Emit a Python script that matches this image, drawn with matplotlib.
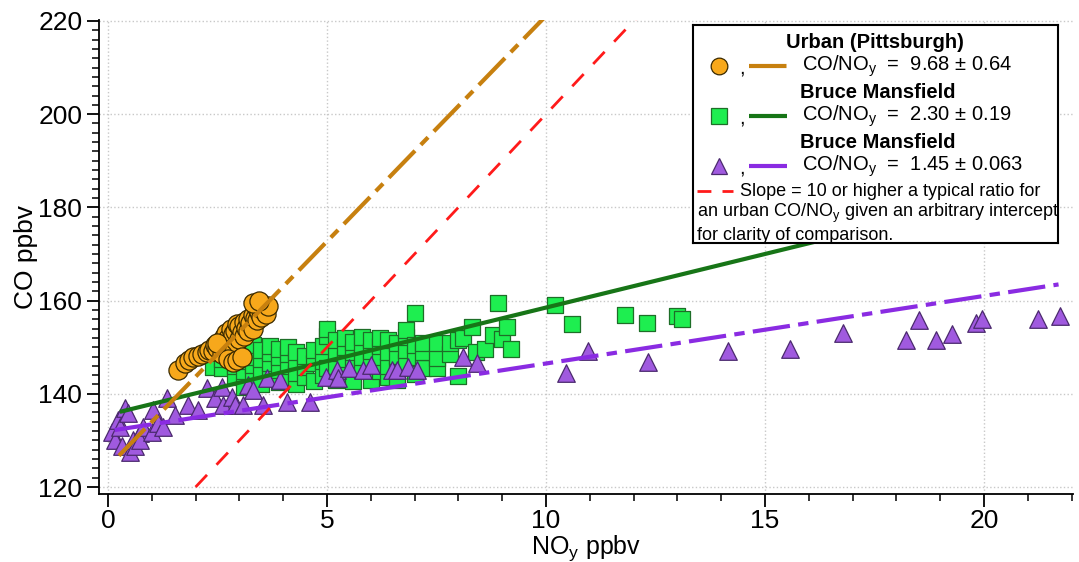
import matplotlib
matplotlib.use("Agg")
import matplotlib.pyplot as plt
from matplotlib import font_manager
from matplotlib.ticker import MultipleLocator
import numpy as np

# Urban (Pittsburgh) points
urban_x = [1.6, 1.75, 1.85, 1.95, 2.05, 2.15, 2.25, 2.3, 2.4, 2.45, 2.5, 2.55, 2.6, 2.65,
           2.7, 2.7, 2.75, 2.8, 2.8, 2.85, 2.9, 2.9, 2.95, 3.0, 3.0, 3.05, 3.1, 3.1, 3.15,
           3.2, 3.2, 3.25, 3.3, 3.3, 3.35, 3.4, 3.4, 3.45, 3.5, 3.55, 3.6, 3.65, 2.6, 2.75,
           2.85, 2.95, 3.05, 2.5, 3.3, 3.45]
urban_y = [145.2, 146.5, 147.3, 147.8, 148.2, 148.6, 149.0, 149.5, 149.2, 150.5, 149.8, 150.8,
           151.5, 152.2, 150.5, 153.0, 152.0, 151.5, 154.0, 152.8, 150.2, 153.5, 155.0, 151.8,
           154.5, 153.2, 152.5, 155.5, 154.2, 153.5, 156.0, 155.2, 154.0, 157.0, 156.2, 158.5,
           155.8, 157.5, 156.5, 158.0, 157.2, 158.8, 148.5, 147.5, 146.8, 147.2, 148.0, 151.0,
           159.5, 160.0]

# Bruce Mansfield (squares)
green_x = [2.4, 2.6, 2.6, 2.9, 2.9, 2.9,
           3.1, 3.1, 3.1, 3.1, 3.3, 3.3, 3.3, 3.3,
           3.5, 3.5, 3.5, 3.5, 3.7, 3.7, 3.7, 3.7,
           3.9, 3.9, 3.9, 3.9, 4.1, 4.1, 4.1, 4.1,
           4.3, 4.3, 4.3, 4.3, 4.5, 4.5, 4.5,
           4.7, 4.7, 4.7, 4.9, 4.9, 4.9, 5.0, 5.0, 5.0,
           5.2, 5.2, 5.2, 5.2, 5.4, 5.4, 5.4, 5.4,
           5.6, 5.6, 5.6, 5.6, 5.8, 5.8, 5.8, 5.8,
           6.0, 6.0, 6.0, 6.0, 6.2, 6.2, 6.2, 6.2,
           6.4, 6.4, 6.4, 6.4, 6.6, 6.6, 6.6, 6.6,
           6.8, 6.8, 6.8, 6.8, 7.0, 7.0, 7.0, 7.0,
           7.2, 7.2, 7.2, 7.5, 7.5, 7.5, 7.8, 7.8,
           8.0, 8.0, 8.1, 8.3, 8.4, 8.6, 8.8, 8.9, 9.0, 9.1, 9.2,
           10.2, 10.6, 11.8, 12.3, 13.0, 13.1]
green_y = [145.7, 145.5, 147.5, 143.5, 146.0, 148.5,
           141.5, 144.8, 147.0, 149.2, 143.5, 146.2, 148.0, 150.5,
           142.2, 145.0, 147.5, 149.5, 143.8, 146.5, 148.8, 150.2,
           142.5, 145.2, 147.8, 149.6, 143.2, 146.0, 148.5, 150.0,
           142.0, 144.5, 147.2, 149.0, 143.5, 145.8, 148.2,
           142.8, 146.5, 149.5, 144.0, 147.0, 150.2, 145.5, 152.5, 154.0,
           143.0, 146.0, 148.8, 151.5, 144.5, 147.5, 150.0, 152.0,
           142.8, 146.2, 149.0, 151.2, 145.0, 148.0, 150.5, 152.2,
           143.0, 146.5, 149.2, 151.5, 144.8, 147.8, 150.2, 152.0,
           143.5, 146.0, 149.0, 151.5, 143.0, 145.5, 148.2, 150.8,
           146.8, 149.5, 152.2, 153.7, 144.2, 148.0, 150.5, 157.3,
           145.5, 149.0, 151.0, 145.5, 147.7, 150.9, 148.5, 150.9,
           143.8, 151.5, 152.0, 154.3, 149.0, 149.6, 152.6, 159.5, 151.8, 154.3, 149.6,
           159.0, 155.0, 157.0, 155.2, 156.6, 156.0]

# Bruce Mansfield (triangles)
purple_x = [0.1, 0.16, 0.23, 0.27, 0.32, 0.39, 0.46, 0.5, 0.57, 0.62, 0.73, 0.73, 0.8, 1.0,
            1.03, 1.14, 1.26, 1.35, 1.53, 1.83, 2.05, 2.26, 2.44, 2.6, 2.63, 2.83, 2.9, 3.08,
            3.2, 3.31, 3.54, 3.63, 3.93, 4.09, 4.61, 4.98, 5.23, 5.25, 5.5, 5.82, 6.0, 6.48,
            6.6, 6.85, 7.05, 8.1, 8.42, 10.46, 10.96, 12.33, 14.16, 15.57, 16.78, 18.22,
            18.52, 18.9, 19.27, 19.82, 19.95, 21.23, 21.74]
purple_y = [131.8, 130.1, 134.4, 132.9, 128.8, 137.0, 135.9, 127.5, 130.1, 128.8, 131.6, 130.1,
            132.9, 131.8, 136.5, 133.7, 132.9, 139.1, 135.5, 137.6, 136.5, 141.2, 139.1, 141.5,
            137.6, 139.3, 137.6, 137.6, 141.9, 140.8, 137.6, 143.4, 143.0, 138.2, 138.2, 143.6,
            145.1, 143.4, 145.5, 145.1, 146.2, 145.1, 145.1, 145.8, 145.1, 147.9, 146.6, 144.5,
            149.2, 146.8, 149.2, 149.6, 153.0, 151.5, 155.8, 151.5, 152.8, 155.2, 156.1, 156.1,
            156.7]

# fit lines: (slope, intercept, x start, x end)
urban_fit = (9.68, 124.3, 0.25, 10.5)
green_fit = (2.30, 135.5, 0.27, 21.6)
purple_fit = (1.45, 132.0, 0.15, 21.7)
ref_fit = (10.0, 100.0, 2.0, 12.2)

names = {f.name for f in font_manager.fontManager.ttflist}
FONT = "Liberation Sans" if "Liberation Sans" in names else "DejaVu Sans"

plt.rcParams["font.family"] = [FONT, "DejaVu Sans"]
plt.rcParams["mathtext.fontset"] = "custom"
plt.rcParams["mathtext.rm"] = FONT
plt.rcParams["mathtext.bf"] = FONT + ":bold"
plt.rcParams["mathtext.it"] = FONT + ":italic"

ORANGE_PT = "#F7A81B"
ORANGE_LN = "#C7800F"
GREEN_PT = "#1EEE50"
GREEN_ED = "#1E6E28"
GREEN_LN = "#177517"
PURPLE_PT = "#A05ADF"
PURPLE_ED = "#4B2A6E"
PURPLE_LN = "#8A2BE2"

W, H = 1079, 562
fig = plt.figure(figsize=(W / 100, H / 100), dpi=100)
ax = fig.add_axes([99 / W, 1 - 494 / H, (1073 - 99) / W, (494 - 20) / H])

ax.set_xlim(-0.205, 22.03)
ax.set_ylim(118.5, 220.2)

ax.grid(True, which="major", linestyle=":", color="#c8c8c8", linewidth=1.0)
ax.set_axisbelow(True)
for s in ["top", "right"]:
    ax.spines[s].set_visible(False)
for s in ["left", "bottom"]:
    ax.spines[s].set_linewidth(1.3)

ax.scatter(green_x, green_y, s=120, marker="s", facecolor=GREEN_PT, edgecolor=GREEN_ED,
           linewidth=0.9, zorder=3)
ax.scatter(purple_x, purple_y, s=160, marker="^", facecolor=PURPLE_PT, edgecolor=PURPLE_ED,
           linewidth=0.9, zorder=4)
ax.scatter(urban_x, urban_y, s=190, marker="o", facecolor=ORANGE_PT, edgecolor="#3a2a00",
           linewidth=0.9, zorder=5)


def fit_line(fit, **kw):
    m, b, x0, x1 = fit
    xs = np.array([x0, x1])
    ax.plot(xs, m * xs + b, **kw)


fit_line(green_fit, color=GREEN_LN, lw=3.0, zorder=6, solid_capstyle="butt")
fit_line(purple_fit, color=PURPLE_LN, lw=3.0, zorder=6, dashes=(9, 2, 2.5, 2))
fit_line(ref_fit, color="#FF1A1A", lw=2.0, zorder=6, dashes=(6, 5))
fit_line(urban_fit, color=ORANGE_LN, lw=3.0, zorder=7, dashes=(9, 2, 2.5, 2))

ax.xaxis.set_major_locator(MultipleLocator(5))
ax.xaxis.set_minor_locator(MultipleLocator(1))
ax.yaxis.set_major_locator(MultipleLocator(20))
ax.yaxis.set_minor_locator(MultipleLocator(2))
ax.tick_params(axis="both", which="major", direction="out", length=9, width=1.3,
               labelsize=19, colors="black")
ax.tick_params(axis="both", which="minor", direction="out", length=5, width=1.1)
ax.tick_params(axis="x", which="major", pad=2)
ax.tick_params(axis="y", which="major", pad=3)

ax.set_ylabel("CO ppbv", fontsize=19, labelpad=0)
ax.set_xlabel("NO$_\\mathregular{y}$ ppbv", fontsize=18, labelpad=0)

# legend box drawn in its own pixel-unit axes
lx0, ly0, lx1, ly1 = 693, 25, 1058, 243
lg = fig.add_axes([lx0 / W, 1 - ly1 / H, (lx1 - lx0) / W, (ly1 - ly0) / H])
lg.set_xlim(0, lx1 - lx0)
lg.set_ylim(ly1 - ly0, 0)
lg.set_xticks([])
lg.set_yticks([])
lg.set_zorder(10)
for s in lg.spines.values():
    s.set_linewidth(1.5)

fs = 14.5
lg.text(182, 18, "Urban (Pittsburgh)", fontsize=fs, fontweight="bold", ha="center", va="center")
lg.text(185, 67, "Bruce Mansfield", fontsize=fs, fontweight="bold", ha="center", va="center")
lg.text(185, 117, "Bruce Mansfield", fontsize=fs, fontweight="bold", ha="center", va="center")

rows = [
    (41, "o", ORANGE_PT, "#3a2a00", ORANGE_LN, "9.68 ± 0.64", (9, 2, 2.5, 2)),
    (91, "s", GREEN_PT, GREEN_ED, GREEN_LN, "2.30 ± 0.19", None),
    (141, "^", PURPLE_PT, PURPLE_ED, PURPLE_LN, "1.45 ± 0.063", None),
]
for y, mk, fc, ec, lc, val, dsh in rows:
    lg.plot([26], [y], marker=mk, ms=12, mfc=fc, mec=ec, mew=0.9, ls="none")
    lg.text(49, y + 2, ",", fontsize=fs, ha="center", va="center")
    kw = dict(color=lc, lw=3.0, solid_capstyle="butt")
    if dsh:
        kw["dashes"] = dsh
    lg.plot([56, 94], [y, y], **kw)
    lg.text(109, y, "CO/NO$_\\mathregular{y}$  =  " + val, fontsize=fs, ha="left", va="center")

lg.plot([4, 40], [166, 166], color="#FF1A1A", lw=2.0, dashes=(5, 4))
fs2 = 13
lg.text(47, 166, "Slope = 10 or higher a typical ratio for", fontsize=fs2, ha="left", va="center")
lg.text(4, 188, "an urban CO/NO$_\\mathregular{y}$ given an arbitrary intercept", fontsize=fs2,
        ha="left", va="center")
lg.text(4, 210, "for clarity of comparison.", fontsize=fs2, ha="left", va="center")

fig.savefig("out.png", dpi=100)
